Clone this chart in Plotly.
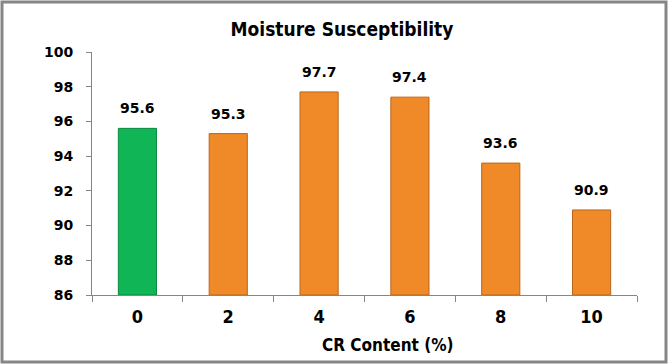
import plotly.graph_objects as go

categories = ["0", "2", "4", "6", "8", "10"]
values = [95.6, 95.3, 97.7, 97.4, 93.6, 90.9]
value_labels = ["95.6", "95.3", "97.7", "97.4", "93.6", "90.9"]
y_ticks = [86, 88, 90, 92, 94, 96, 98, 100]
y_min = 86

fill_colors = ["#10B556"] + ["#F08A28"] * 5
line_colors = ["#0B8A40"] + ["#B8661E"] * 5

W, H = 668, 364
L, R, T, B = 92, 31, 52, 69
pw, ph = W - L - R, H - T - B

fig = go.Figure()
fig.add_trace(go.Bar(
    x=categories, y=[v - y_min for v in values],
    base=y_min,
    marker=dict(color=fill_colors, line=dict(color=line_colors, width=1)),
    width=0.42,
    hoverinfo="skip",
))

for i, (v, t) in enumerate(zip(values, value_labels)):
    fig.add_annotation(x=i, y=v, text=t, showarrow=False, yanchor="bottom", yshift=10,
                       font=dict(family="DejaVu Sans", size=14, color="#000000", weight="bold"))

label_font = "Liberation Sans Narrow, DejaVu Sans Condensed, sans-serif"
fig.add_annotation(xref="paper", yref="paper", x=(387.5 - L) / pw, y=(H - B - 345) / ph,
                   text="CR Content (%)", showarrow=False, yanchor="middle",
                   font=dict(family=label_font, size=17, color="#000000", weight="bold"))

fig.add_shape(type="rect", xref="paper", yref="paper",
              x0=(2 - L) / pw, x1=(666 - L) / pw,
              y0=(H - B - 362) / ph, y1=(H - B - 2) / ph,
              line=dict(color="#868686", width=3), fillcolor="rgba(0,0,0,0)", layer="below")

fig.update_layout(
    width=W, height=H,
    margin=dict(l=L, r=R, t=T, b=B),
    paper_bgcolor="white", plot_bgcolor="white",
    showlegend=False,
    title=dict(text="Moisture Susceptibility", x=342 / W, xanchor="center",
               y=1 - 29 / H, yanchor="middle",
               font=dict(family=label_font, size=19, color="#000000", weight="bold")),
    xaxis=dict(type="category", showgrid=False, showline=True, linecolor="#868686", linewidth=1,
               ticks="outside", ticklen=6, tickcolor="#868686", tickson="boundaries",
               ticklabelstandoff=5,
               tickfont=dict(family=label_font, size=18, color="#000000", weight="bold")),
    yaxis=dict(range=[86, 100], tickvals=y_ticks, showgrid=False, showline=True,
               linecolor="#868686", linewidth=1, ticks="outside", ticklen=5, tickcolor="#868686",
               tickfont=dict(family="DejaVu Sans", size=14, color="#000000", weight="bold"),
               ticklabelstandoff=10, zeroline=False),
)

fig.write_html("out.html", config={"displayModeBar": False},
               post_script="document.body.style.margin='0';")
